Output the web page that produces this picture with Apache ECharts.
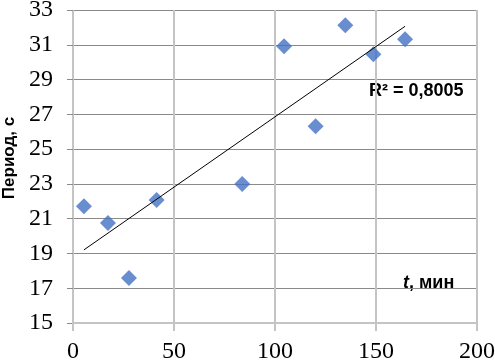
<!DOCTYPE html>
<html>
<head>
<meta charset="utf-8">
<script src="https://cdn.jsdelivr.net/npm/echarts@6/dist/echarts.min.js"></script>
<style>
html,body{margin:0;padding:0;background:#fff;}
#chart{width:495px;height:362px;}
</style>
</head>
<body>
<div id="chart"></div>
<script>
// measured points: time in minutes, period in seconds
const timeMin = [5.4, 17.3, 27.7, 41.4, 83.8, 104.5, 120.1, 134.8, 148.7, 164.4];
const period = [21.72, 20.75, 17.59, 22.07, 22.99, 30.92, 26.32, 32.13, 30.46, 31.32];
const r2Text = 'R² = 0,8005';
const xName = 't';
const yName = 'Период, с';

// linear trend line (least squares), drawn from min to max t
const n = timeMin.length;
const mx = timeMin.reduce((a, b) => a + b, 0) / n;
const my = period.reduce((a, b) => a + b, 0) / n;
let sxy = 0, sxx = 0;
for (let i = 0; i < n; i++) {
    sxy += (timeMin[i] - mx) * (period[i] - my);
    sxx += (timeMin[i] - mx) * (timeMin[i] - mx);
}
const slope = sxy / sxx;
const icpt = my - slope * mx;
const tMin = Math.min(...timeMin), tMax = Math.max(...timeMin);
const trend = [[tMin, icpt + slope * tMin], [tMax, icpt + slope * tMax]];

const chart = echarts.init(document.getElementById('chart'));
chart.setOption({
    animation: false,
    backgroundColor: '#fff',
    grid: {left: 73, right: 18, top: 10, bottom: 39, containLabel: false, outerBoundsMode: 'none'},
    xAxis: {
        type: 'value', min: 0, max: 200, interval: 50,
        axisLine: {show: true, lineStyle: {color: '#c4c4c4', width: 2}},
        axisTick: {show: true, length: 8, lineStyle: {color: '#c4c4c4', width: 2}},
        axisLabel: {color: '#000', fontFamily: 'Liberation Serif', fontSize: 24, margin: 17},
        splitLine: {show: true, lineStyle: {color: '#c4c4c4', width: 2}}
    },
    yAxis: {
        type: 'value', min: 15, max: 33, interval: 2,
        axisLine: {show: false},
        axisTick: {show: true, length: 6, lineStyle: {color: '#8a8a8a'}},
        axisLabel: {color: '#000', fontFamily: 'Liberation Serif', fontSize: 24, margin: 20},
        splitLine: {show: true, lineStyle: {color: '#8a8a8a', width: 1}}
    },
    series: [
        {
            type: 'scatter',
            symbol: 'diamond',
            symbolSize: 16,
            itemStyle: {color: '#4472c4'},
            data: timeMin.map((t, i) => [t, period[i]])
        },
        {
            type: 'line',
            data: trend,
            symbol: 'none',
            lineStyle: {color: '#000', width: 1},
            z: 3
        }
    ],
    graphic: [
        {
            type: 'text', left: 369, top: 82,
            style: {text: r2Text, font: 'bold 18px "Liberation Sans"', fill: '#000'}
        },
        {
            type: 'text', left: 403, top: 274,
            style: {
                text: '{i|' + xName + '}{b|, мин}',
                rich: {
                    i: {font: 'italic bold 18px "Liberation Sans"', fill: '#000'},
                    b: {font: 'bold 18px "Liberation Sans"', fill: '#000'}
                }
            }
        },
        {
            type: 'text', x: 9, y: 158, rotation: Math.PI / 2,
            style: {text: yName, font: 'bold 17px "Liberation Sans"', fill: '#000', align: 'center', verticalAlign: 'middle'}
        }
    ]
});
</script>
</body>
</html>
